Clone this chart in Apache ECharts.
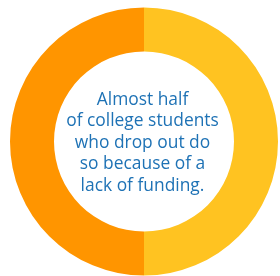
<!DOCTYPE html>
<html>
<head>
<meta charset="utf-8">
<script src="https://cdn.jsdelivr.net/npm/echarts@6/dist/echarts.min.js"></script>
<style>
  html, body { margin: 0; padding: 0; background: #fff; }
  #chart { width: 280px; height: 276px; }
</style>
</head>
<body>
<div id="chart"></div>
<script>
// 数据
const categories = ['Funding', 'Other']
const values = [50, 50]
const centerText = [
  'Almost half',
  'of college students',
  'who drop out do',
  'so because of a',
  'lack of funding.',
]

const sliceColors = ['#FFC321', '#FF9500']

const chart = echarts.init(document.getElementById('chart'))

const option = {
  animation: false,
  graphic: [
    {
      type: 'text',
      x: 142.5,
      y: 143,
      style: {
        text: centerText.join('\n'),
        align: 'center',
        verticalAlign: 'middle',
        fill: '#1E72B5',
        font: '17.4px "Open Sans"',
        lineHeight: 21.5,
      },
    },
  ],
  series: [
    {
      type: 'pie',
      center: [144, 141.5],
      radius: [90, 134],
      startAngle: 90,
      clockwise: true,
      silent: true,
      label: { show: false },
      labelLine: { show: false },
      data: categories.map((name, i) => ({
        name,
        value: values[i],
        itemStyle: { color: sliceColors[i] },
      })),
    },
  ],
}

chart.setOption(option)
</script>
</body>
</html>
